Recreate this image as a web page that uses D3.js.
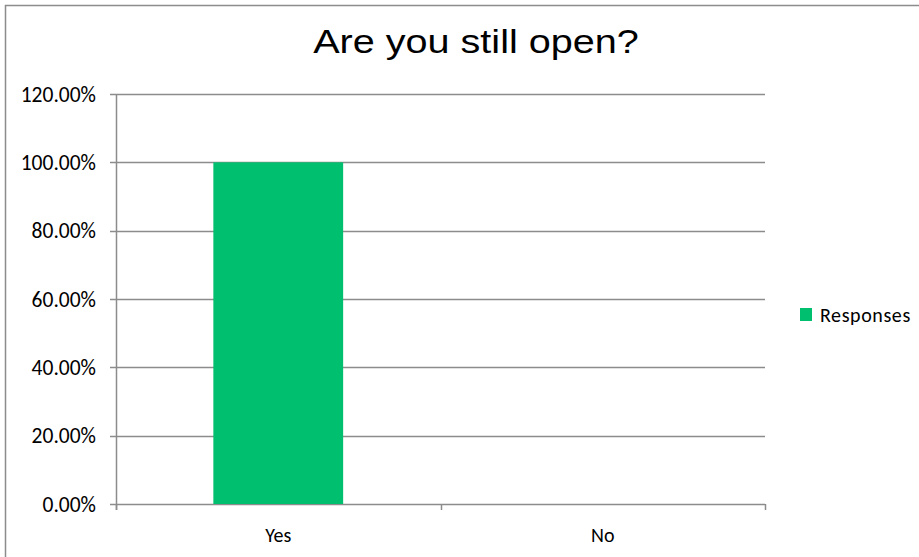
<!DOCTYPE html>
<html><head><meta charset="utf-8">
<script src="https://cdn.jsdelivr.net/npm/d3@7"></script>
<style>body{margin:0;background:#fff}svg{display:block}</style>
</head><body>
<script>
const categories = ["Yes", "No"];
const responses = [1.0, 0.0];
const yTicks = [0, 0.2, 0.4, 0.6, 0.8, 1.0, 1.2];
const title = "Are you still open?";
const seriesName = "Responses";

const W = 919, H = 557;
const plot = {left: 116, right: 765, top: 94, bottom: 504};
const green = "#00BF6F", grid = "#8c8c8c";
const smallFont = "Carlito, Calibri, Lato, sans-serif";

const svg = d3.select("body").append("svg").attr("width", W).attr("height", H);
svg.append("rect").attr("width", W).attr("height", H).attr("fill", "#fff");
svg.append("rect").attr("x", 5.5).attr("y", 5.5).attr("width", W + 50).attr("height", H + 50)
  .attr("fill", "none").attr("stroke", grid).attr("stroke-width", 1.5);

const y = d3.scaleLinear().domain([0, 1.2]).range([plot.bottom, plot.top]);
const xBand = d3.scaleBand().domain(categories).range([plot.left, plot.right]).padding(0);
const xBar = d3.scaleBand().domain(categories).range([plot.left, plot.right]).paddingInner(0.6).paddingOuter(0.3);

// gridlines
svg.append("g").selectAll("line").data(yTicks).join("line")
  .attr("x1", plot.left - 6).attr("x2", plot.right)
  .attr("y1", d => Math.round(y(d)) + 0.5).attr("y2", d => Math.round(y(d)) + 0.5)
  .attr("stroke", grid).attr("stroke-width", 1.5);

// y axis line
svg.append("line").attr("x1", plot.left + 0.5).attr("x2", plot.left + 0.5)
  .attr("y1", y(1.2)).attr("y2", y(0) + 6).attr("stroke", grid).attr("stroke-width", 1.5);

// y labels
const fmt = d3.format(".2%");
svg.append("g").selectAll("text").data(yTicks).join("text")
  .attr("x", 96).attr("y", d => y(d)).attr("dy", "0.36em")
  .attr("text-anchor", "end").attr("font-family", smallFont).attr("font-size", 21.5)
  .attr("fill", "#000").text(d => fmt(d));

// x ticks at band boundaries
const bounds = categories.map(c => xBand(c)).concat([xBand(categories[categories.length - 1]) + xBand.bandwidth()]);
svg.append("g").selectAll("line").data(bounds).join("line")
  .attr("x1", d => Math.round(d) + 0.5).attr("x2", d => Math.round(d) + 0.5)
  .attr("y1", y(0)).attr("y2", y(0) + 6).attr("stroke", grid).attr("stroke-width", 1.5);

// bars
svg.append("g").selectAll("rect").data(categories).join("rect")
  .attr("x", (c) => xBar(c)).attr("width", xBar.bandwidth())
  .attr("y", (c, i) => y(responses[i])).attr("height", (c, i) => y(0) - y(responses[i]))
  .attr("fill", green);

// x labels
svg.append("g").selectAll("text").data(categories).join("text")
  .attr("x", c => xBand(c) + xBand.bandwidth() / 2).attr("y", 542)
  .attr("text-anchor", "middle").attr("font-family", smallFont).attr("font-size", 20)
  .attr("fill", "#000").text(c => c);

// title (horizontally stretched as in the reference)
svg.append("text").attr("transform", "translate(476,53) scale(1.2,1)").attr("text-anchor", "middle")
  .attr("font-family", "'Liberation Sans', Arial, sans-serif").attr("font-size", 33)
  .attr("fill", "#000").text(title);

// legend
const lg = svg.append("g").attr("transform", "translate(800,308)");
lg.append("rect").attr("width", 12).attr("height", 13).attr("fill", green);
lg.append("text").attr("x", 20).attr("y", 7).attr("dy", "0.36em").attr("letter-spacing", 0.6)
  .attr("font-family", smallFont).attr("font-size", 20).attr("fill", "#000").text(seriesName);
</script>
</body></html>
